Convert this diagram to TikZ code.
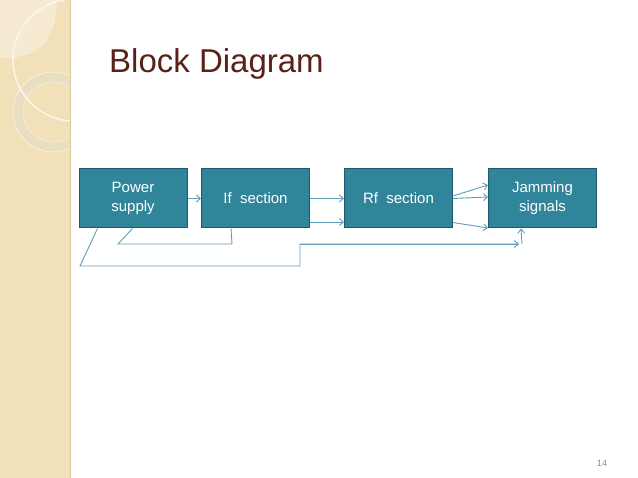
\documentclass[tikz,border=0pt]{standalone}
\usepackage{fontspec}
\setmainfont{Liberation Sans}
\usetikzlibrary{calc,arrows.meta}
\definecolor{band}{RGB}{241,224,184}
\definecolor{bandedge}{RGB}{214,198,160}
\definecolor{bandlight}{RGB}{246,235,210}
\definecolor{ringc}{RGB}{234,222,194}
\definecolor{boxfill}{RGB}{49,133,155}
\definecolor{boxedge}{RGB}{30,90,108}
\definecolor{wire}{RGB}{95,158,188}
\definecolor{titlec}{RGB}{88,34,24}
\tikzset{
  blk/.style={draw=boxedge, line width=1pt, fill=boxfill, minimum width=108pt, minimum height=59pt, inner sep=0pt, text=white, align=center, font=\fontsize{15}{19}\selectfont},
  wireline/.style={draw=wire, line width=0.9pt},
  arr/.style={wireline, -{Straight Barb[length=4pt,width=7pt]}}
}
\begin{document}
\begin{tikzpicture}[x=1pt,y=-1pt]
\useasboundingbox (0,0) rectangle (638,478);
\fill[white] (0,0) rectangle (638,478);
% decorative band
\fill[band] (0,0) rectangle (70,478);
\begin{scope}
\clip (0,0) rectangle (70,478);
\fill[bandlight] (0,0) -- (57,0) .. controls (56,30) and (48,45) .. (30,54) -- (14,58) -- (0,58) -- cycle;
\draw[ringc, line width=10pt] (53,112) circle (35);
\draw[white!55!band, line width=0.8pt] (53,112) circle (40);
\draw[band!80!black!20!white, line width=0.6pt] (53,112) circle (30);
\draw[white!70!band, line width=1.6pt] (74,60) circle (61);
\end{scope}
\draw[bandedge, line width=1.5pt] (70.5,0) -- (70.5,478);
% title
\node[anchor=base west, inner sep=0pt, text=titlec, font=\fontsize{33}{36}\selectfont] (title) at (109,73) {Block Diagram};
% blocks
\node[blk] (ps) at (133,198.5) {Power\\supply};
\node[blk] (if) at (255.5,198.5) {If~~section};
\node[blk] (rf) at (398.5,198.5) {Rf~~section};
\node[blk] (jam) at (542.5,198.5) {Jamming\\signals};
% arrows
\draw[arr] (ps.east) -- (if.west);
\draw[arr] (if.east) -- (rf.west);
\draw[arr] ($(if.east)+(0,23.5)$) -- ($(rf.west)+(0,23.5)$);
\draw[arr] ($(rf.east)+(0,-2.5)$) -- ($(jam.west)+(0,-13.5)$);
\draw[arr] (rf.east) -- ($(jam.west)+(0,-1.5)$);
\draw[arr] ($(rf.east)+(0,24)$) -- ($(jam.west)+(0,29.5)$);
% feedback lines
\coordinate (fbend) at (519,244);
\draw[wireline] ($(ps.south west)+(19,0)$) -- (80,266) -- (300,266) -- (300,244) -- (519,244);
\draw[arr] (300,244) -- (fbend);
\draw[arr] (522,244) -- ($(jam.south west)+(33,0)$);
\draw[wireline] ($(ps.south east)+(-55,0)$) -- (118,244) -- (232,244) -- ($(if.south west)+(30,0)$);
% page number
\node[text=black!45, font=\fontsize{9}{10}\selectfont, inner sep=0pt] (pg) at (602,463) {14};
\end{tikzpicture}
\end{document}
